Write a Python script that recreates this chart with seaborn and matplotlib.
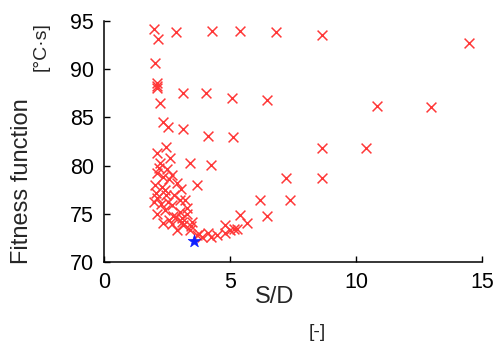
import matplotlib
matplotlib.use("Agg")
import matplotlib.pyplot as plt
import seaborn as sns
import pandas as pd

# Candidate designs: storage-to-diameter ratio vs. fitness value
sd_ratio = [
    1.98, 2.14, 2.86, 4.29, 5.40, 6.83, 8.65, 14.48,
    2.02, 2.10, 2.12, 2.10, 3.13, 4.05, 5.08, 6.47, 10.83, 12.98, 2.22,
    2.34, 2.54, 3.13, 4.13, 5.12,
    8.65, 10.40,
    2.46, 2.10, 2.62, 3.41, 4.25, 2.22,
    7.22, 8.65, 7.38, 6.19, 6.47, 5.40, 5.67, 4.80, 5.16, 5.00,
    2.10, 2.70, 3.69, 2.90, 2.02, 2.42, 2.10, 3.00, 2.70, 2.30,
    2.46, 3.20, 2.42, 2.10, 2.74, 3.10, 2.34, 2.70, 3.13, 3.41,
    2.90, 3.69, 3.89, 4.25, 4.48, 4.80, 5.28, 3.77, 4.13, 3.10,
    2.85, 3.00, 2.55, 2.25, 3.45, 2.05, 2.60, 3.30,
    2.20, 2.50, 2.80, 3.30, 2.60, 3.50, 2.00, 2.35, 3.05,
]
fitness = [
    94.2, 93.1, 93.8, 94.0, 94.0, 93.8, 93.5, 92.7,
    90.6, 88.6, 88.3, 88.0, 87.5, 87.5, 87.0, 86.8, 86.2, 86.1, 86.5,
    84.5, 84.0, 83.8, 83.1, 83.0,
    81.8, 81.8,
    81.9, 81.3, 80.8, 80.3, 80.1, 80.3,
    78.7, 78.7, 76.4, 76.4, 74.8, 74.9, 74.0, 73.8, 73.4, 73.3,
    79.2, 79.0, 78.0, 78.2, 78.0, 77.5, 76.6, 76.4, 75.9, 77.8,
    77.0, 76.4, 75.4, 75.0, 74.8, 74.6, 74.1, 73.9, 73.8, 73.3,
    73.3, 72.8, 72.6, 72.6, 72.8, 73.0, 73.4, 72.9, 73.0, 74.2,
    74.7, 75.2, 76.2, 76.0, 73.7, 77.2, 78.6, 75.6,
    79.8, 79.6, 77.0, 75.0, 74.4, 74.2, 76.2, 78.8, 77.6,
]
best_sd = [3.57]
best_fitness = [72.2]

x_ticks = [0, 5, 10, 15]
y_ticks = [70, 75, 80, 85, 90, 95]

sns.set_style("ticks")
plt.rcParams["font.family"] = ["Liberation Sans", "DejaVu Sans"]

fig = plt.figure(figsize=(4.97, 3.43), dpi=100)
ax = fig.add_axes([0.209, 0.236, 0.761, 0.703])

df = pd.DataFrame({"sd": sd_ratio, "fit": fitness})
sns.scatterplot(data=df, x="sd", y="fit", ax=ax, marker="x", s=50,
                color="#ff3838", linewidth=1.1, legend=False, zorder=2)
best = pd.DataFrame({"sd": best_sd, "fit": best_fitness})
sns.scatterplot(data=best, x="sd", y="fit", ax=ax, marker="*", s=90,
                color="#1020ff", edgecolor="#1020ff", linewidth=0.5,
                legend=False, zorder=3)

ax.set_xlim(0, 15)
ax.set_ylim(70, 95)
ax.set_xticks(x_ticks)
ax.set_yticks(y_ticks)
ax.tick_params(direction="in", length=4, width=1, labelsize=15.5,
               colors="black", pad=7)
ax.set_xlabel("")
ax.set_ylabel("")
sns.despine(ax=ax)
for side in ("left", "bottom"):
    ax.spines[side].set_linewidth(1.1)
    ax.spines[side].set_color("black")

fig.text(0.045, 0.472, "Fitness function", rotation=90, ha="center",
         va="center", fontsize=17)
fig.text(0.083, 0.863, "[°C·s]", rotation=90, ha="center",
         va="center", fontsize=14)
fig.text(0.553, 0.134, "S/D", ha="center", va="center", fontsize=17)
fig.text(0.638, 0.032, "[-]", ha="center", va="center", fontsize=14)

fig.savefig("out.png", dpi=100)
